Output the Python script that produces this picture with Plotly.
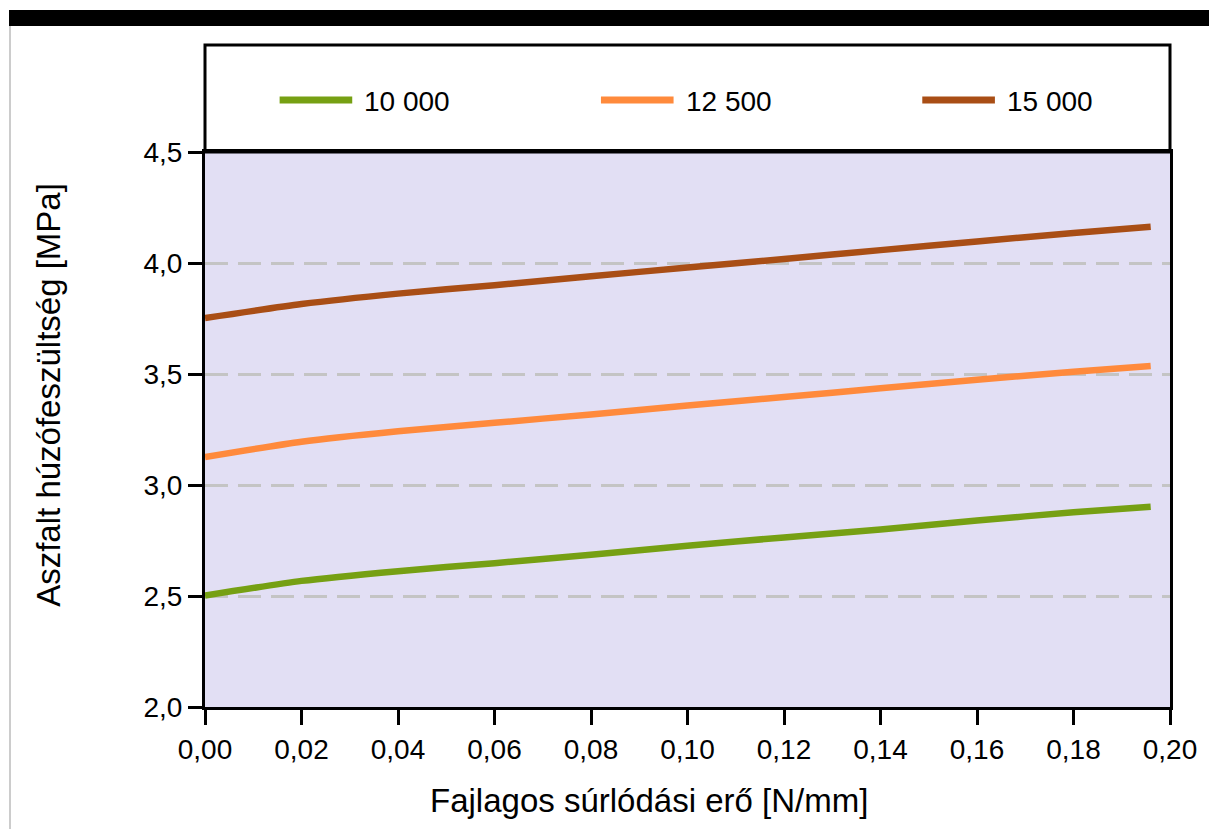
import plotly.graph_objects as go

# ---- data ----
x_vals = [0.0, 0.02, 0.04, 0.06, 0.08, 0.10, 0.12, 0.14, 0.16, 0.18, 0.196]
series_names = ["10 000", "12 500", "15 000"]
y_10000 = [2.502, 2.568, 2.612, 2.648, 2.686, 2.726, 2.764, 2.800, 2.840, 2.877, 2.902]
y_12500 = [3.126, 3.195, 3.242, 3.280, 3.318, 3.358, 3.396, 3.436, 3.474, 3.510, 3.536]
y_15000 = [3.752, 3.815, 3.862, 3.900, 3.940, 3.980, 4.018, 4.058, 4.097, 4.135, 4.163]
series_values = [y_10000, y_12500, y_15000]
colors = ["#76A013", "#FF8A3C", "#A94E15"]
x_ticks = [0.0, 0.02, 0.04, 0.06, 0.08, 0.10, 0.12, 0.14, 0.16, 0.18, 0.20]
y_ticks = [2.0, 2.5, 3.0, 3.5, 4.0, 4.5]
x_title = "Fajlagos súrlódási erő [N/mm]"
y_title = "Aszfalt húzófeszültség [MPa]"

# page body margin offset (8px) is accounted for
OFF = 8
W, H = 1201, 821
L, T = 205 - OFF, 152 - OFF
R = W - (1175 - OFF)
B = H - (707 - OFF)
pw, ph = W - L - R, H - T - B

def px(xs):
    """screen x -> paper"""
    return (xs - OFF - L) / pw

def py(ys):
    """screen y -> paper"""
    return (H - B - (ys - OFF)) / ph

FONT = "Liberation Sans, Arial, sans-serif"

fig = go.Figure()
for name, ys, c in zip(series_names, series_values, colors):
    fig.add_trace(go.Scatter(x=x_vals, y=ys, mode="lines", name=name,
                             line=dict(color=c, width=6.5, shape="spline",
                                       smoothing=0.6),
                             showlegend=False))

shapes = []
annotations = []
# legend box
shapes.append(dict(type="rect", xref="paper", yref="paper", x0=0, x1=1,
                   y0=1, y1=py(45), line=dict(color="black", width=3),
                   fillcolor="white", layer="below"))
# custom legend entries
leg_x_px = [280, 603, 926]
for name, c, lx in zip(series_names, colors, leg_x_px):
    shapes.append(dict(type="line", xref="paper", yref="paper",
                       x0=px(lx), x1=px(lx + 73), y0=py(100), y1=py(100),
                       line=dict(color=c, width=7)))
    annotations.append(dict(text=name, xref="paper", yref="paper",
                            x=px(lx + 83), y=py(101), xanchor="left",
                            yanchor="middle", showarrow=False,
                            font=dict(size=28, color="black", family=FONT)))
# axis titles
annotations.append(dict(text=x_title, xref="paper", yref="paper",
                        x=px(651), y=py(800), xanchor="center",
                        yanchor="middle", showarrow=False,
                        font=dict(size=33, color="black", family=FONT)))
annotations.append(dict(text=y_title, xref="paper", yref="paper",
                        x=px(47), y=py(395), xanchor="center",
                        yanchor="middle", showarrow=False, textangle=-90,
                        font=dict(size=33, color="black", family=FONT)))
# page frame decorations
shapes.append(dict(type="rect", xref="paper", yref="paper",
                   x0=px(8), x1=px(W + OFF + 20), y0=py(26), y1=py(10),
                   fillcolor="black", line=dict(width=0)))
shapes.append(dict(type="line", xref="paper", yref="paper",
                   x0=px(9), x1=px(9), y0=py(26), y1=py(H + OFF + 20),
                   line=dict(color="#CCCCCC", width=2)))

fig.update_layout(
    width=W, height=H,
    margin=dict(l=L, r=R, t=T, b=B),
    paper_bgcolor="white",
    plot_bgcolor="#E2DFF4",
    separators=", ",
    font=dict(family=FONT, color="black"),
    shapes=shapes,
    annotations=annotations,
    showlegend=False,
    xaxis=dict(range=[0, 0.20], tickvals=x_ticks, tickformat=".2f",
               showgrid=False, zeroline=False,
               showline=True, linecolor="black", linewidth=3, mirror=True,
               ticks="outside", ticklen=15, tickwidth=3, tickcolor="black",
               tickfont=dict(size=28, family=FONT)),
    yaxis=dict(range=[2.0, 4.5], tickvals=y_ticks, tickformat=".1f",
               showgrid=True, gridcolor="#C4C4C4", gridwidth=3,
               griddash="23px,10px", zeroline=False,
               showline=True, linecolor="black", linewidth=3, mirror=True,
               ticks="outside", ticklen=14, tickwidth=3, tickcolor="black",
               tickfont=dict(size=28, family=FONT)),
)

fig.write_html("out.html")
